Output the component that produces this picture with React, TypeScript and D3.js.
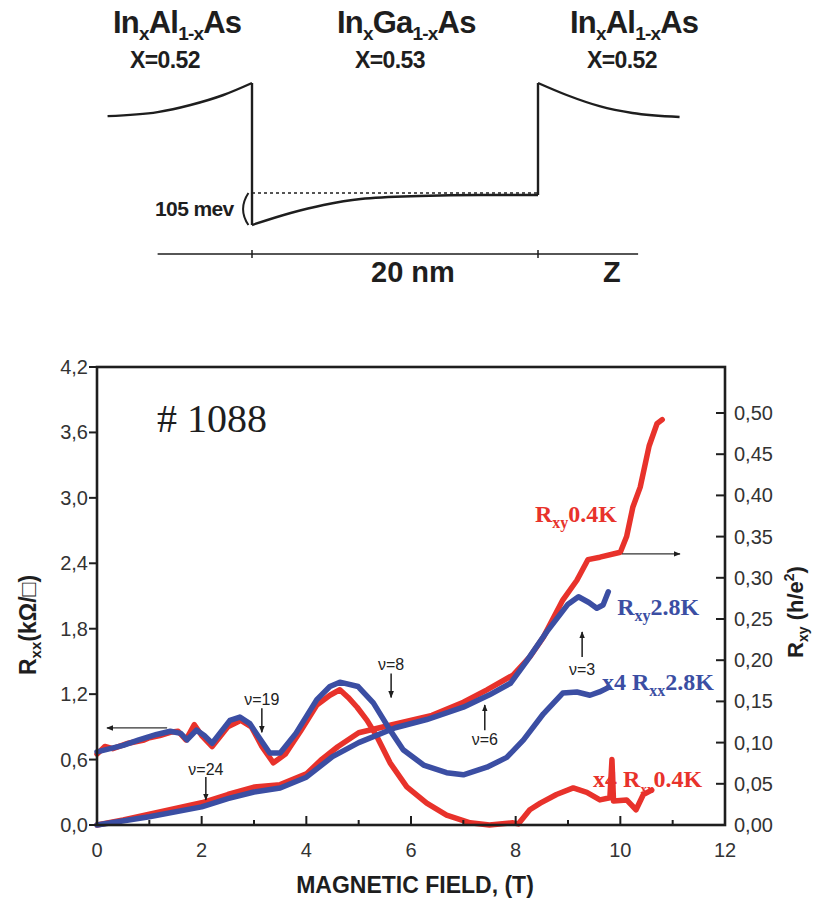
import React from 'react';
import * as d3 from 'd3';

const W = 813;
const H = 899;

// ---- band diagram (z in nm, energy in meV, flat well bottom = 0)
const leftBarrier: [number, number][] = [[-10.1, 276], [-6.6, 290], [-4.3, 315], [-2.0, 350], [0, 392]];
const wellBottom: [number, number][] = [[0, -105], [2.7, -63], [5.0, -35], [7.6, -14], [11.7, -3.5], [16, 0], [20, 0]];
const rightBarrier: [number, number][] = [[20, 392], [22.0, 350], [24.3, 311], [26.6, 287], [29.9, 273]];
const fermiLevel = 7;
const wellWidth = 20;
const zAxisRange = [-6.6, 27];

// ---- magnetotransport data, B in tesla
const rxxRed: [number, number][] = [
  [0, 0.65], [0.15, 0.72], [0.3, 0.7], [0.6, 0.75], [0.9, 0.78], [1.0, 0.8], [1.2, 0.82], [1.4, 0.85],
  [1.55, 0.86], [1.7, 0.78], [1.86, 0.92], [2.0, 0.82], [2.2, 0.72], [2.5, 0.9], [2.75, 0.96], [2.95, 0.9],
  [3.15, 0.72], [3.37, 0.57], [3.6, 0.65], [3.9, 0.87], [4.2, 1.1], [4.45, 1.19], [4.64, 1.24], [4.8, 1.17],
  [4.97, 1.08], [5.16, 0.96], [5.35, 0.81], [5.6, 0.57], [5.92, 0.35], [6.3, 0.2], [6.68, 0.09], [7.13, 0.02],
  [7.5, 0.0], [7.95, 0.02], [8.05, 0.01], [8.27, 0.14], [8.47, 0.2], [8.78, 0.28], [9.1, 0.34], [9.36, 0.3],
  [9.61, 0.23], [9.8, 0.25], [9.84, 0.6], [9.87, 0.22], [10.12, 0.23], [10.3, 0.14], [10.44, 0.28], [10.6, 0.32],
];
const rxxBlue: [number, number][] = [
  [0, 0.67], [0.5, 0.73], [0.8, 0.78], [1.14, 0.83], [1.4, 0.86], [1.6, 0.84], [1.72, 0.78], [1.9, 0.87],
  [2.05, 0.82], [2.2, 0.75], [2.54, 0.96], [2.73, 0.99], [2.92, 0.93], [3.1, 0.8], [3.3, 0.66], [3.5, 0.66],
  [3.8, 0.84], [4.2, 1.15], [4.45, 1.27], [4.64, 1.31], [4.99, 1.27], [5.28, 1.12], [5.6, 0.87], [5.85, 0.69],
  [6.24, 0.55], [6.68, 0.48], [7.0, 0.46], [7.45, 0.53], [7.83, 0.62], [8.15, 0.78], [8.53, 1.02], [8.9, 1.21],
  [9.17, 1.22], [9.42, 1.19], [9.6, 1.22], [9.77, 1.26],
];
const rxyRed: [number, number][] = [
  [0, 0], [0.5, 0.006], [1, 0.013], [1.5, 0.02], [2, 0.027], [2.5, 0.037], [3, 0.046], [3.5, 0.049],
  [4, 0.062], [4.3, 0.08], [4.6, 0.095], [5, 0.112], [5.6, 0.121], [6.4, 0.133], [7, 0.149], [7.45, 0.164],
  [7.95, 0.182], [8.27, 0.204], [8.53, 0.228], [8.9, 0.273], [9.17, 0.297], [9.38, 0.322], [9.61, 0.325],
  [10, 0.331], [10.12, 0.35], [10.24, 0.386], [10.38, 0.41], [10.55, 0.46], [10.7, 0.487], [10.8, 0.492],
];
const rxyBlue: [number, number][] = [
  [0, 0], [1, 0.01], [2, 0.022], [2.5, 0.032], [3, 0.04], [3.5, 0.045], [4, 0.058], [4.5, 0.083],
  [5, 0.1], [5.7, 0.118], [6.3, 0.128], [7, 0.143], [7.5, 0.158], [7.9, 0.172], [8.2, 0.198], [8.6, 0.235],
  [9, 0.268], [9.2, 0.277], [9.4, 0.27], [9.55, 0.263], [9.67, 0.267], [9.77, 0.283],
];

const xTicks = [0, 2, 4, 6, 8, 10, 12];
const xMinorTicks = [1, 3, 5, 7, 9, 11];
const leftTicks = [0, 0.6, 1.2, 1.8, 2.4, 3.0, 3.6, 4.2];
const rightTicks = [0, 0.05, 0.1, 0.15, 0.2, 0.25, 0.3, 0.35, 0.4, 0.45, 0.5];

// filling factor markers: label, B, arrow tail, arrow head, label baseline (left axis units)
const nuMarks = [
  { t: 'ν=24', B: 2.08, from: 0.44, to: 0.23, ty: 0.46 },
  { t: 'ν=19', B: 3.15, from: 1.07, to: 0.85, ty: 1.1 },
  { t: 'ν=8', B: 5.62, from: 1.39, to: 1.17, ty: 1.42 },
  { t: 'ν=6', B: 7.41, from: 0.87, to: 1.1, ty: 0.73 },
  { t: 'ν=3', B: 9.27, from: 1.54, to: 1.77, ty: 1.375 },
];

const RED = '#e8322b';
const BLUE = '#3b4ea3';
const INK = '#1e1e1e';
const SANS = '"Liberation Sans", Arial, sans-serif';
const SERIF = '"Liberation Serif", "Times New Roman", serif';

const comma = (f: string) => (v: number) => d3.format(f)(v).replace('.', ',');

// rich text: each part is [text, fontSize?, baseline offset?]
type Part = [string, number?, number?];
const rich = (parts: Part[]) => {
  let cur = 0;
  return parts.map(([t, size, off = 0], i) => {
    const dy = off - cur;
    cur = off;
    return (
      <tspan key={i} fontSize={size} dy={dy || undefined}>{t}</tspan>
    );
  });
};

export default function App() {
  // band diagram scales
  const zx = d3.scaleLinear().domain([0, wellWidth]).range([252, 538]);
  const ey = d3.scaleLinear().domain([0, -105]).range([195, 225]);
  const band = d3.line<[number, number]>().x(d => zx(d[0])).y(d => ey(d[1])).curve(d3.curveMonotoneX);

  // plot scales
  const x = d3.scaleLinear().domain([0, 12]).range([97, 725]);
  const yL = d3.scaleLinear().domain([0, 4.2]).range([825, 367]);
  const yR = d3.scaleLinear().domain([0, 0.5]).range([825, 413]);
  const lineL = d3.line<[number, number]>().x(d => x(d[0])).y(d => yL(d[1]));
  const lineR = d3.line<[number, number]>().x(d => x(d[0])).y(d => yR(d[1]));

  const compound = (x0: number, mid: string, label: string) => (
    <g fontFamily={SANS} fontWeight="bold" fill={INK}>
      <text x={x0} y={33} fontSize={31} letterSpacing={-0.8}>
        {rich([['In'], ['x', 19, 7], [mid, 31, 0], ['1-x', 19, 7], ['As', 31, 0]])}
      </text>
      <text x={x0 + (mid === 'Ga' ? 18 : 17)} y={68} fontSize={23} letterSpacing={-0.6}>{label}</text>
    </g>
  );

  const fmtL = comma('.1f');
  const fmtR = comma('.2f');

  return (
    <svg width={W} height={H} style={{ display: 'block', position: 'absolute', left: 0, top: 0, background: '#fff' }}>
      <defs>
        <marker id="ah" viewBox="0 0 10 10" refX="9" refY="5" markerWidth="7" markerHeight="7" orient="auto-start-reverse" markerUnits="userSpaceOnUse">
          <path d="M0,1 L10,5 L0,9 Z" fill={INK} />
        </marker>
      </defs>

      {/* ---------- band diagram ---------- */}
      {compound(113, 'Al', 'X=0.52')}
      {compound(337, 'Ga', 'X=0.53')}
      {compound(570, 'Al', 'X=0.52')}

      <g fill="none" stroke={INK} strokeWidth={2.4}>
        <path d={band(leftBarrier) ?? ''} />
        <line x1={zx(0)} x2={zx(0)} y1={ey(392)} y2={ey(-105)} />
        <path d={band(wellBottom) ?? ''} />
        <line x1={zx(wellWidth)} x2={zx(wellWidth)} y1={ey(0)} y2={ey(392)} />
        <path d={band(rightBarrier) ?? ''} />
        <line x1={zx(0)} x2={zx(wellWidth)} y1={ey(fermiLevel)} y2={ey(fermiLevel)} strokeWidth={1.4} strokeDasharray="3,3" />
        <path d={`M${zx(-0.25)},${ey(fermiLevel)} Q${zx(-1.0)},${ey(-50)} ${zx(-0.25)},${ey(-105)}`} strokeWidth={2} />
      </g>
      <g stroke={INK} strokeWidth={1.5}>
        <line x1={zx(zAxisRange[0])} x2={zx(zAxisRange[1])} y1={254} y2={254} />
        <line x1={zx(0)} x2={zx(0)} y1={250} y2={258} />
        <line x1={zx(wellWidth)} x2={zx(wellWidth)} y1={250} y2={258} />
      </g>
      <g fontFamily={SANS} fontWeight="bold" fill={INK}>
        <text x={155} y={216} fontSize={21} letterSpacing={-0.6}>105 mev</text>
        <text x={371} y={282} fontSize={29}>20 nm</text>
        <text x={603} y={282} fontSize={29}>Z</text>
      </g>

      {/* ---------- magnetotransport plot ---------- */}
      <g fill="none" strokeLinejoin="round" strokeLinecap="round" strokeWidth={5.5}>
        <path d={lineL(rxxRed) ?? ''} stroke={RED} />
        <path d={lineR(rxyRed) ?? ''} stroke={RED} />
        <path d={lineL(rxxBlue) ?? ''} stroke={BLUE} />
        <path d={lineR(rxyBlue) ?? ''} stroke={BLUE} />
      </g>

      {/* frame */}
      <rect x={x(0)} y={yL(4.2)} width={x(12) - x(0)} height={yL(0) - yL(4.2)} fill="none" stroke={INK} strokeWidth={2.6} />

      {/* ticks */}
      <g stroke={INK} strokeWidth={2}>
        {leftTicks.map(t => <line key={'l' + t} x1={x(0) - 8} x2={x(0)} y1={yL(t)} y2={yL(t)} />)}
        {rightTicks.map(t => <line key={'r' + t} x1={x(12) - 9} x2={x(12)} y1={yR(t)} y2={yR(t)} />)}
        {xTicks.map(t => <line key={'x' + t} x1={x(t)} x2={x(t)} y1={yL(0)} y2={yL(0) - 9} />)}
        {xMinorTicks.map(t => <line key={'m' + t} x1={x(t)} x2={x(t)} y1={yL(0)} y2={yL(0) - 5} />)}
      </g>
      <g fontFamily={SANS} fontSize={20} fill="#333">
        {leftTicks.map(t => <text key={'L' + t} x={x(0) - 9} y={yL(t) + 7} textAnchor="end">{fmtL(t)}</text>)}
        {rightTicks.map(t => <text key={'R' + t} x={734} y={yR(t) + 7}>{fmtR(t)}</text>)}
        {xTicks.map(t => <text key={'X' + t} x={x(t)} y={857} textAnchor="middle">{t}</text>)}
      </g>

      {/* axis titles */}
      <g fontFamily={SANS} fontWeight="bold" fill={INK}>
        <text x={415} y={893} fontSize={23} textAnchor="middle">MAGNETIC FIELD, (T)</text>
        <text transform="translate(36,625) rotate(-90)" fontSize={23} textAnchor="middle">
          {rich([['R'], ['xx', 15, 5], ['(kΩ/□)', 23, 0]])}
        </text>
        <text transform="translate(803,612) rotate(-90)" fontSize={22} textAnchor="middle">
          {rich([['R'], ['xy', 14, 5], [' (h/e', 22, 0], ['2', 14, -9], [')', 22, 0]])}
        </text>
      </g>

      {/* sample number */}
      <text x={157} y={432} fontFamily={SERIF} fontSize={40} fill={INK}># 1088</text>

      {/* long arrows pointing to the axes */}
      <g stroke="#333" strokeWidth={1.3} markerEnd="url(#ah)">
        <line x1={x(1.34)} x2={x(0.19)} y1={yL(0.89)} y2={yL(0.89)} />
        <line x1={x(10.03)} x2={x(11.14)} y1={yR(0.329)} y2={yR(0.329)} />
      </g>

      {/* filling factors */}
      {nuMarks.map(m => (
        <g key={m.t}>
          <line x1={x(m.B)} x2={x(m.B)} y1={yL(m.from)} y2={yL(m.to)} stroke={INK} strokeWidth={1.5} markerEnd="url(#ah)" />
          <text x={x(m.B)} y={yL(m.ty)} fontFamily={SANS} fontSize={16} fill="#222" textAnchor="middle">{m.t}</text>
        </g>
      ))}

      {/* curve labels */}
      <g fontFamily={SERIF} fontWeight="bold" fontSize={24}>
        <text x={x(8.37)} y={yL(2.78)} fill={RED}>{rich([['R'], ['xy', 16, 6], ['0.4K', 24, 0]])}</text>
        <text x={x(9.94)} y={yL(1.93)} fill={BLUE}>{rich([['R'], ['xy', 16, 6], ['2.8K', 24, 0]])}</text>
        <text x={x(9.65)} y={yL(1.24)} fill={BLUE}>{rich([['x4 R'], ['xx', 16, 6], ['2.8K', 24, 0]])}</text>
        <text x={x(9.48)} y={yL(0.35)} fill={RED}>{rich([['x4 R'], ['xx', 13, 6], ['0.4K', 24, 0]])}</text>
      </g>
    </svg>
  );
}
